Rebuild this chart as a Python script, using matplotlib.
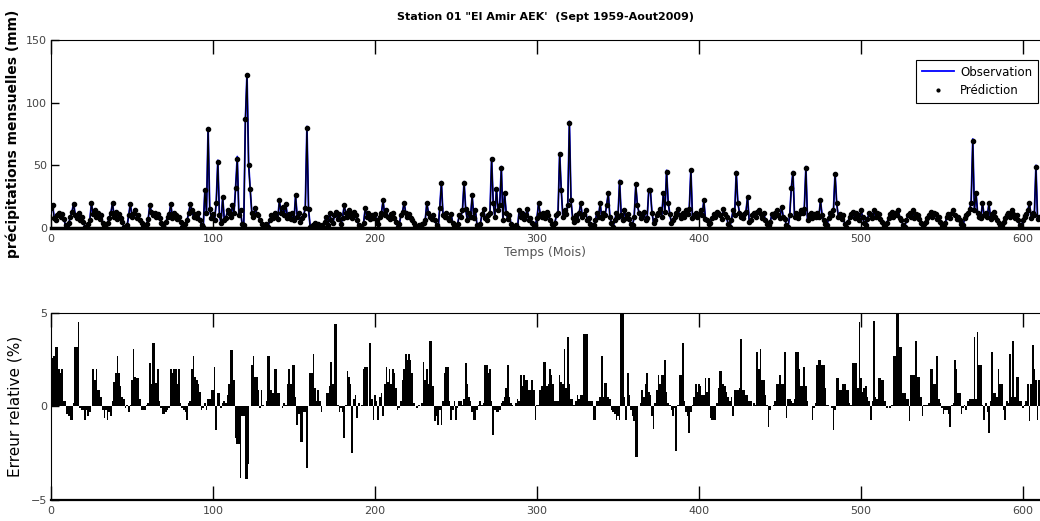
import matplotlib
matplotlib.use("Agg")
import matplotlib.pyplot as plt
from matplotlib.lines import Line2D
import numpy as np

# pluie mensuelle observee (mm), une ligne = une annee sept..aout
obs = [
    17, 19, 8, 6, 10, 12, 9, 11, 7, 2, 1, 4,
    9, 13, 20, 10, 8, 12, 6, 9, 5, 1, 0, 3,
    6, 20, 11, 14, 9, 12, 7, 10, 4, 2, 0, 4,
    8, 12, 20, 9, 13, 7, 11, 8, 5, 1, 0, 2,
    10, 20, 9, 12, 14, 8, 10, 6, 4, 1, 0, 3,
    7, 18, 13, 10, 12, 9, 11, 8, 4, 2, 0, 5,
    9, 11, 19, 8, 12, 10, 7, 9, 5, 1, 0, 3,
    6, 12, 19, 14, 9, 11, 8, 12, 6, 2, 1, 30,
    12, 80, 15, 8, 11, 6, 20, 54, 10, 4, 25, 6,
    8, 14, 12, 9, 18, 12, 33, 57, 10, 14, 3, 2,
    85, 123, 52, 30, 12, 9, 16, 11, 10, 6, 3, 1,
    0, 3, 1, 6, 10, 8, 12, 9, 7, 22, 12, 17,
    10, 19, 8, 11, 7, 12, 6, 26, 9, 12, 5, 8,
    10, 16, 81, 15, 1, 0, 2, 4, 1, 3, 0, 2,
    1, 5, 9, 2, 12, 6, 4, 10, 13, 7, 11, 3,
    8, 18, 12, 9, 14, 11, 8, 13, 10, 6, 2, 1,
    0, 4, 16, 9, 12, 7, 10, 8, 11, 6, 3, 9,
    12, 22, 10, 14, 9, 7, 11, 12, 8, 5, 1, 3,
    10, 13, 20, 12, 9, 11, 8, 6, 4, 1, 0, 2,
    0, 3, 4, 6, 20, 12, 9, 7, 10, 6, 2, 0,
    16, 37, 10, 9, 12, 8, 6, 11, 4, 2, 0, 3,
    10, 9, 14, 37, 15, 6, 12, 9, 26, 8, 14, 2,
    0, 3, 11, 15, 8, 6, 10, 12, 56, 20, 9, 32,
    14, 18, 49, 6, 28, 12, 7, 10, 3, 1, 0, 2,
    0, 14, 9, 12, 7, 10, 15, 6, 8, 4, 1, 2,
    8, 20, 11, 9, 12, 8, 13, 10, 6, 3, 1, 4,
    10, 12, 60, 30, 9, 14, 11, 18, 85, 22, 8, 5,
    10, 6, 12, 20, 9, 11, 14, 6, 8, 3, 1, 2,
    6, 12, 9, 20, 8, 12, 10, 18, 28, 9, 4, 1,
    6, 12, 9, 38, 10, 6, 14, 8, 11, 7, 3, 2,
    9, 34, 18, 12, 8, 10, 13, 6, 8, 30, 30, 12,
    4, 6, 10, 12, 15, 9, 28, 13, 46, 20, 11, 4,
    6, 9, 12, 15, 10, 8, 12, 9, 14, 11, 15, 47,
    8, 10, 12, 9, 11, 14, 10, 22, 7, 6, 3, 4,
    8, 11, 9, 13, 12, 10, 7, 15, 11, 9, 3, 1,
    6, 14, 10, 45, 20, 12, 9, 8, 11, 13, 25, 5,
    6, 10, 12, 9, 13, 14, 11, 8, 12, 6, 3, 2,
    5, 11, 9, 12, 14, 10, 8, 17, 9, 7, 2, 1,
    10, 32, 45, 9, 12, 8, 11, 14, 12, 15, 49, 6,
    10, 12, 8, 11, 9, 12, 9, 22, 10, 6, 3, 2,
    8, 12, 10, 14, 44, 20, 9, 11, 7, 10, 3, 1,
    5, 9, 11, 13, 8, 12, 10, 6, 14, 9, 4, 2,
    7, 12, 10, 8, 14, 9, 12, 11, 7, 5, 2, 1,
    4, 8, 11, 13, 9, 12, 10, 14, 8, 6, 2, 1,
    6, 10, 12, 9, 14, 8, 11, 10, 7, 4, 1, 3,
    5, 8, 10, 13, 9, 12, 11, 7, 9, 5, 2, 1,
    4, 9, 11, 8, 12, 14, 10, 7, 9, 6, 3, 2,
    8, 10, 12, 15, 20, 71, 14, 28, 12, 9, 8, 20,
    10, 12, 9, 20, 7, 11, 13, 9, 6, 4, 1, 2,
    5, 8, 10, 12, 9, 14, 11, 8, 10, 6, 2, 1,
    6, 9, 11, 14, 20, 8, 12, 10, 50, 7, 9,
]

# pluie predite (mm)
pred = [
    16, 18, 8, 6, 10, 12, 9, 11, 7, 2, 1, 4,
    9, 13, 19, 10, 8, 12, 6, 9, 5, 1, 0, 3,
    6, 20, 11, 14, 9, 12, 7, 10, 4, 2, 0, 4,
    8, 12, 20, 9, 13, 7, 11, 8, 5, 1, 0, 2,
    10, 19, 9, 12, 14, 8, 10, 6, 4, 1, 0, 3,
    7, 18, 13, 10, 12, 9, 11, 8, 4, 2, 0, 5,
    9, 11, 19, 8, 12, 10, 7, 9, 5, 1, 0, 3,
    6, 12, 19, 14, 9, 11, 8, 12, 6, 2, 1, 30,
    12, 79, 15, 8, 11, 6, 20, 53, 10, 4, 25, 6,
    8, 14, 12, 9, 18, 12, 32, 55, 10, 14, 3, 2,
    87, 122, 50, 31, 12, 9, 16, 11, 10, 6, 3, 1,
    0, 3, 1, 6, 10, 8, 12, 9, 7, 22, 12, 17,
    10, 19, 8, 11, 7, 12, 6, 26, 9, 12, 5, 8,
    10, 16, 80, 15, 1, 0, 2, 4, 1, 3, 0, 2,
    1, 5, 9, 2, 12, 6, 4, 10, 13, 7, 11, 3,
    8, 18, 12, 9, 14, 11, 8, 13, 10, 6, 2, 1,
    0, 4, 16, 9, 12, 7, 10, 8, 11, 6, 3, 9,
    12, 22, 10, 14, 9, 7, 11, 12, 8, 5, 1, 3,
    10, 13, 20, 12, 9, 11, 8, 6, 4, 1, 0, 2,
    0, 3, 4, 6, 20, 12, 9, 7, 10, 6, 2, 0,
    16, 36, 10, 9, 12, 8, 6, 11, 4, 2, 0, 3,
    10, 9, 14, 36, 15, 6, 12, 9, 26, 8, 14, 2,
    0, 3, 11, 15, 8, 6, 10, 12, 55, 20, 9, 31,
    14, 18, 48, 6, 28, 12, 7, 10, 3, 1, 0, 2,
    0, 14, 9, 12, 7, 10, 15, 6, 8, 4, 1, 2,
    8, 20, 11, 9, 12, 8, 13, 10, 6, 3, 1, 4,
    10, 12, 59, 30, 9, 14, 11, 18, 84, 22, 8, 5,
    10, 6, 12, 20, 9, 11, 14, 6, 8, 3, 1, 2,
    6, 12, 9, 20, 8, 12, 10, 18, 28, 9, 4, 1,
    6, 12, 9, 37, 10, 6, 14, 8, 11, 7, 3, 2,
    9, 35, 18, 12, 8, 10, 13, 6, 8, 30, 30, 12,
    4, 6, 10, 12, 15, 9, 28, 13, 45, 20, 11, 4,
    6, 9, 12, 15, 10, 8, 12, 9, 14, 11, 15, 46,
    8, 10, 12, 9, 11, 14, 10, 22, 7, 6, 3, 4,
    8, 11, 9, 13, 12, 10, 7, 15, 11, 9, 3, 1,
    6, 14, 10, 44, 20, 12, 9, 8, 11, 13, 25, 5,
    6, 10, 12, 9, 13, 14, 11, 8, 12, 6, 3, 2,
    5, 11, 9, 12, 14, 10, 8, 17, 9, 7, 2, 1,
    10, 32, 44, 9, 12, 8, 11, 14, 12, 15, 48, 6,
    10, 12, 8, 11, 9, 12, 9, 22, 10, 6, 3, 2,
    8, 12, 10, 14, 43, 20, 9, 11, 7, 10, 3, 1,
    5, 9, 11, 13, 8, 12, 10, 6, 14, 9, 4, 2,
    7, 12, 10, 8, 14, 9, 12, 11, 7, 5, 2, 1,
    4, 8, 11, 13, 9, 12, 10, 14, 8, 6, 2, 1,
    6, 10, 12, 9, 14, 8, 11, 10, 7, 4, 1, 3,
    5, 8, 10, 13, 9, 12, 11, 7, 9, 5, 2, 1,
    4, 9, 11, 8, 12, 14, 10, 7, 9, 6, 3, 2,
    8, 10, 12, 15, 20, 69, 14, 28, 12, 9, 8, 20,
    10, 12, 9, 20, 7, 11, 13, 9, 6, 4, 1, 2,
    5, 8, 10, 12, 9, 14, 11, 8, 10, 6, 2, 1,
    6, 9, 11, 14, 20, 8, 12, 10, 49, 7, 9,
]

# erreur relative (%)
err = [
    5.0, 2.6, 2.7, 3.2, 3.2, 2.0, 1.8, 2.0, 0.3, 0.3,
    -0.4, -0.5, -0.7, -0.7, 0.2, 3.2, 3.2, 4.5, -0.1, -0.2,
    -0.2, -0.7, -0.2, -0.5, -0.3, 0.0, 2.0, 1.4, 2.0, 0.9,
    0.9, 0.5, -0.2, -0.6, -0.2, -0.7, -0.3, -0.5, 0.3, 1.3,
    1.8, 2.7, 1.8, 1.1, 0.5, 0.4, -0.1, 0.1, -0.3, 0.1,
    1.4, 3.1, 1.6, 1.5, 1.5, 0.4, -0.2, -0.2, -0.2, 0.1,
    0.2, 2.3, 1.2, 3.4, 3.4, 1.25, 2.0, 0.3, -0.1, -0.4,
    -0.4, -0.3, -0.2, -0.1, 2.0, 1.8, 2.0, 2.0, 1.2, 2.0,
    0.2, -0.1, -0.2, -0.3, -0.7, 0.2, 0.3, 2.0, 2.7, 1.6,
    1.4, 1.2, 0.8, -0.2, -0.1, 0.2, -0.2, 0.4, 0.4, 0.9,
    0.9, 2.1, -1.25, 0.7, 0.7, -0.1, 0.2, 0.3, 0.2, 0.6,
    1.2, 3.0, 3.0, 1.4, -1.7, -2.0, -2.0, -3.8, -0.5, -0.5,
    -3.9, -3.9, -3.1, 0.0, 2.2, 2.7, 1.6, 1.6, 0.9, -0.1,
    0.9, 0.1, 0.0, 0.3, 2.7, 2.7, 0.9, 0.7, 2.0, 2.0,
    0.7, 0.7, 0.0, -0.1, 0.2, 0.1, 1.2, 2.0, 1.2, 2.2,
    2.2, 0.5, -1.0, -0.4, -1.9, -1.9, -0.3, -0.3, -3.3, 0.0,
    1.8, 1.8, 2.8, 1.0, 0.3, 0.9, 0.3, -0.3, 0.0, 0.0,
    0.7, 0.7, 1.1, 2.4, 1.2, 4.4, 4.4, 0.1, -0.3, -0.1,
    -0.3, -1.7, 0.1, 1.9, 1.6, 1.2, -2.5, 0.4, 0.6, -0.6,
    0.2, 0.0, 0.1, 2.0, 2.1, 2.1, 0.0, 3.4, 0.4, -0.7,
    0.6, 0.3, -0.7, 0.5, 0.7, -0.5, 1.2, 2.1, 1.3, 2.0,
    1.2, 2.0, 1.8, 1.0, -0.2, -0.1, 0.3, 1.4, 2.0, 2.8,
    2.5, 2.8, 2.5, 1.8, 0.2, 0.0, -0.1, 0.1, 0.0, 0.2,
    2.4, 1.4, 2.0, 1.2, 3.5, 3.5, 1.1, -0.8, -0.5, -1.0,
    -0.2, -1.0, 0.3, 1.8, 2.1, 2.1, 0.3, -0.7, -0.2, 0.3,
    -0.7, -0.1, 0.3, 0.3, 0.1, 0.4, 2.3, 1.2, 0.5, 0.3,
    -0.3, -0.7, -0.7, -0.2, 0.1, 0.3, 0.1, 0.2, 2.2, 2.2,
    1.8, 2.0, 0.3, -1.5, -0.2, -0.3, -0.3, -0.2, 0.2, 0.3,
    0.5, 1.0, 2.2, 0.5, 0.2, 0.1, 0.0, 0.2, 0.4, 0.3,
    1.7, 1.1, 1.7, 1.4, 1.4, 0.9, 0.9, 1.4, 0.9, -0.7,
    0.1, 0.1, 0.9, 1.1, 2.4, 2.4, 1.1, 1.2, 2.0, 1.7,
    1.2, 0.3, 0.3, 0.3, 1.7, 1.3, 1.2, 3.1, 1.0, 3.7,
    1.2, 0.4, 0.4, 0.1, 0.3, 0.6, 0.4, 0.6, 0.6, 3.9,
    3.9, 3.9, 0.3, 0.3, 0.3, -0.7, -0.7, 0.3, 0.3, 0.5,
    2.7, 0.5, 1.25, 1.25, 0.5, 0.4, -0.2, -0.3, -0.4, -0.7,
    -0.5, -0.7, 5.0, 5.0, 0.5, -0.7, 1.8, 0.6, -0.2, -0.5,
    -0.8, -2.7, -2.7, 0.0, 0.2, 0.9, 0.5, 1.2, 1.8, 0.8,
    0.6, -0.5, -1.2, 0.2, 0.9, 1.7, 1.2, 1.7, 1.7, 2.5,
    0.8, 0.2, 0.1, -0.2, -0.5, -0.1, -2.4, 0.1, 1.7, 1.7,
    3.4, 0.3, -0.3, -0.5, -1.4, -0.3, 0.1, 0.5, 1.2, 0.8,
    1.2, 1.1, 0.6, 0.6, 1.5, 0.8, 1.5, -0.6, -0.7, -0.7,
    -0.7, 0.2, 1.0, 1.9, 1.9, 1.2, 1.1, 0.8, 0.5, 0.3,
    0.5, -0.5, 0.9, 0.9, 0.9, 1.0, 3.6, 0.9, 0.9, 0.6,
    0.6, 0.3, 0.3, 0.0, 0.2, 0.1, 2.9, 2.0, 3.1, 1.4,
    1.4, 0.6, 0.1, -1.1, -0.2, 0.0, 0.1, 0.3, 1.2, 1.2,
    1.7, 1.2, 1.2, 2.9, -0.6, 0.4, 0.4, 0.3, 0.2, 0.4,
    2.9, 2.9, 2.0, 1.1, 1.1, 2.1, 1.1, 0.3, 0.0, 0.0,
    -0.7, -0.1, 0.2, 2.2, 2.5, 2.5, 2.2, 2.2, 1.0, 0.1,
    0.1, 0.0, -0.1, -1.25, -0.2, 1.5, 1.5, 0.9, 0.9, 1.2,
    1.2, 0.9, 0.9, 0.2, 0.1, 2.3, 2.3, 2.3, 1.0, 4.5,
    1.5, 0.8, 1.0, 1.1, 0.5, 0.3, -0.7, 0.3, 4.55, 0.5,
    0.4, 1.5, 1.5, 1.4, 1.4, 0.3, -0.1, 0.0, -0.1, 0.1,
    2.7, 2.7, 5.0, 5.0, 3.2, 3.2, 0.7, 0.7, 0.4, 0.4,
    -0.8, 1.7, 1.7, 1.7, 3.5, 1.6, 1.6, 0.5, -0.5, 0.1,
    0.1, 0.1, 0.2, 2.0, 2.0, 1.2, 1.2, 2.7, 0.4, 0.2,
    -0.1, -0.4, -0.2, -0.2, -0.4, -1.1, 0.1, 0.2, 2.5, 2.0,
    0.7, 0.7, -0.4, -0.1, 0.1, -0.2, 0.3, 0.4, 0.4, 0.4,
    3.7, 0.4, 4.0, 2.2, 2.2, 0.1, -0.7, 0.2, -0.3, -1.4,
    0.3, 2.9, 0.7, 0.7, 0.5, 2.0, 1.2, 1.2, -0.2, -0.7,
    0.3, 0.2, 2.8, 0.5, 3.5, 0.5, 1.6, 1.6, 0.3, 0.3,
    -0.1, 0.1, 0.3, 1.2, -0.8, 1.2, 3.3, 2.0, 1.4, -0.7,
    1.4,
]

xticks = [0, 100, 200, 300, 400, 500, 600]

plt.rcParams['font.family'] = ['DejaVu Sans']

t = np.arange(len(obs))
te = np.arange(len(err))

fig = plt.figure(figsize=(10.4, 5.21), dpi=100)
ax1 = fig.add_axes([0.049, 0.5624, 0.951, 0.361])
ax2 = fig.add_axes([0.049, 0.0403, 0.951, 0.359])

ax1.plot(t, obs, color='#0000ff', lw=1.3, zorder=2)
ax1.plot(t, pred, color='k', lw=0.9, marker='.', ms=6, zorder=3)
ax1.set_xlim(0, 610.5)
ax1.set_ylim(0, 150)
ax1.set_yticks([0, 50, 100, 150])
ax1.set_xticks(xticks)
ax1.set_title("Station 01 \"El Amir AEK'  (Sept 1959-Aout2009)",
              fontsize=8, fontweight='bold', pad=14)
ax1.set_ylabel("précipitations mensuelles (mm)", fontsize=10,
               fontweight='bold', labelpad=4)
ax1.set_xlabel("Temps (Mois)", fontsize=9, color='#555555', labelpad=2)

hobs = Line2D([], [], color='#0000ff', lw=1.3)
hpred = Line2D([], [], color='k', ls='none', marker='.', ms=4)
leg = ax1.legend([hobs, hpred], ["Observation", "Prédiction"],
                 loc='upper left', bbox_to_anchor=(0.875, 0.895),
                 fontsize=8.5, handlelength=2.7, handletextpad=0.5,
                 fancybox=False, framealpha=1, edgecolor='k',
                 borderaxespad=0, borderpad=0.5)
leg.get_frame().set_linewidth(0.8)

ax2.bar(te, err, width=1.0, color='k', edgecolor='k', linewidth=0)
ax2.set_xlim(0, 610.5)
ax2.set_ylim(-5, 5)
ax2.set_yticks([-5, 0, 5])
ax2.set_xticks(xticks)
ax2.set_ylabel("Erreur relative (%)", fontsize=11, labelpad=6)

for ax in (ax1, ax2):
    ax.spines['right'].set_visible(False)
    ax.tick_params(axis='x', direction='in', top=True, length=10,
                   width=1, labelsize=8, labelcolor='#444444', pad=4)
    ax.tick_params(axis='y', direction='in', right=False, length=6,
                   width=1, labelsize=8, labelcolor='#444444', pad=3)
ax1.spines['bottom'].set_linewidth(2.5)
ax2.spines['bottom'].set_linewidth(1.6)

fig.savefig("out.png", dpi=100)
